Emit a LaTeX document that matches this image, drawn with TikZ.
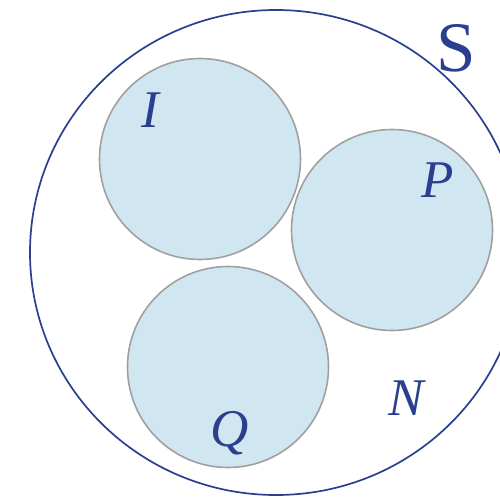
\documentclass[tikz,border=0pt]{standalone}
\usepackage{fontspec}
\setmainfont{Liberation Serif}
\newfontfamily\setserif{Liberation Serif}
\usetikzlibrary{positioning}

\definecolor{setblue}{HTML}{2B3F8F}
\definecolor{setfill}{HTML}{D0E7F2}
\definecolor{setrim}{HTML}{A0A0A0}

\begin{document}
\begin{tikzpicture}[
  x=1pt, y=-1pt,
  subset/.style={circle, draw=setrim, fill=setfill, line width=1.6pt, minimum size=201pt, inner sep=0pt},
  letter/.style={text=setblue, inner sep=0pt, anchor=base, font=\setserif\fontsize{53pt}{53pt}\selectfont\itshape},
  every node/.style={font=\small}
]
\useasboundingbox (0,0) rectangle (500,498);

% universe
\draw[setblue, line width=1.7pt] (276,252.5) ellipse [x radius=246pt, y radius=242.5pt];
\node[text=setblue, inner sep=0pt, anchor=base, font=\setserif\fontsize{71pt}{71pt}\selectfont] (s) at (456,71) {S};

% the three subsets
\node[subset] (icirc) at (200,159) {};
\node[subset] (pcirc) at (392,230) {};
\node[subset] (qcirc) at (228,367) {};

\node[letter] (i) at (150,127) {I};
\node[letter] (p) at (438,197) {P};
\node[letter] (q) at (230,446) {Q};
\node[letter] (n) at (406,415) {N};

\end{tikzpicture}
\end{document}
